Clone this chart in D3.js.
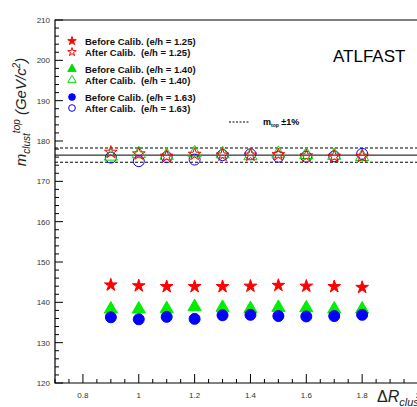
<!DOCTYPE html>
<html>
<head>
<script src="https://cdn.jsdelivr.net/npm/d3@7"></script>
<style>
  body { margin: 0; background: #fff; }
  text { font-family: "Liberation Sans", Arial, sans-serif; }
</style>
</head>
<body>
<svg id="chart" width="417" height="407"></svg>
<script>
var dR = [0.9, 1.0, 1.1, 1.2, 1.3, 1.4, 1.5, 1.6, 1.7, 1.8];
var before125 = [144.3, 144.1, 143.9, 143.9, 143.9, 144.0, 144.2, 144.0, 143.9, 143.7];
var before140 = [138.3, 138.3, 138.4, 138.9, 138.7, 138.4, 138.7, 138.6, 138.3, 138.3];
var before163 = [136.3, 135.8, 136.4, 135.9, 136.8, 136.9, 136.6, 136.5, 136.6, 136.9];
var after125 = [177.2, 176.8, 176.2, 176.7, 176.5, 176.5, 176.6, 176.3, 176.2, 176.2];
var after140 = [176.2, 176.8, 176.4, 177.0, 176.8, 176.3, 176.9, 176.6, 176.4, 176.1];
var after163 = [175.9, 175.0, 176.0, 175.4, 176.5, 176.7, 176.1, 176.1, 176.2, 176.8];
var mtop = 176.5;
var xTicks = [0.8, 1, 1.2, 1.4, 1.6, 1.8, 2];
var yTicks = [120, 130, 140, 150, 160, 170, 180, 190, 200, 210];

var svg = d3.select('#chart');
var pLeft = 55, pTop = 20, pBottom = 383, pRight = 420;
var x = d3.scaleLinear().domain([0.7, 2.0]).range([pLeft, 418]);
var y = d3.scaleLinear().domain([120, 210]).range([pBottom, pTop]);

// frame
svg.append('path').attr('d', 'M' + pRight + ',' + pTop + 'H' + pLeft + 'V' + pBottom + 'H' + pRight)
  .attr('fill', 'none').attr('stroke', '#000').attr('stroke-width', 1.2);

// ticks
var g = svg.append('g').attr('stroke', '#000');
d3.range(120, 210.01, 2).forEach(function(v) {
  var major = v % 10 === 0;
  g.append('line').attr('x1', pLeft).attr('x2', pLeft + (major ? 8 : 4))
    .attr('y1', y(v)).attr('y2', y(v));
});
d3.range(0.7, 2.01, 0.05).forEach(function(v) {
  var major = Math.abs(v * 10 - Math.round(v * 10)) < 1e-6 && Math.round(v * 10) % 2 === 0;
  g.append('line').attr('y1', pBottom).attr('y2', pBottom - (major ? 9 : 4))
    .attr('x1', x(v)).attr('x2', x(v));
});
yTicks.forEach(function(v) {
  svg.append('text').attr('x', pLeft - 5).attr('y', y(v) + 3).attr('text-anchor', 'end')
    .attr('font-size', 8).attr('fill', '#333').text(v);
});
xTicks.forEach(function(v) {
  svg.append('text').attr('x', x(v)).attr('y', pBottom + 15).attr('text-anchor', 'middle')
    .attr('font-size', 8).attr('fill', '#333').text(v);
});

// axis titles
var yl = svg.append('text').attr('transform', 'translate(26,' + 112 + ') rotate(-90)')
  .attr('text-anchor', 'middle').attr('font-size', 15).attr('font-style', 'italic').attr('fill', '#222');
yl.append('tspan').text('m');
yl.append('tspan').attr('font-size', 10).attr('dy', 4).text('clust');
yl.append('tspan').attr('font-size', 10).attr('dy', -10).text('top');
yl.append('tspan').attr('dy', 6).text(' (GeV/c');
yl.append('tspan').attr('font-size', 10).attr('dy', -6).text('2');
yl.append('tspan').attr('dy', 6).text(')');
var xl = svg.append('text').attr('x', 377).attr('y', 402).attr('font-size', 16).attr('font-style', 'italic').attr('fill', '#222');
xl.append('tspan').attr('font-style', 'normal').text('Δ');
xl.append('tspan').text('R');
xl.append('tspan').attr('font-size', 11).attr('dy', 4).text('clust');

// reference lines
[[mtop, null], [mtop * 1.01, '3,2'], [mtop * 0.99, '3,2']].forEach(function(r) {
  svg.append('line').attr('x1', pLeft).attr('x2', pRight).attr('y1', y(r[0])).attr('y2', y(r[0]))
    .attr('stroke', '#000').attr('stroke-width', 1).attr('stroke-dasharray', r[1]);
});

var star = d3.symbol().type(d3.symbolStar);
var tri = d3.symbol().type(d3.symbolTriangle);
var circ = d3.symbol().type(d3.symbolCircle);
var series = [
  { v: after163, sym: circ.size(95), col: 'blue', fill: false },
  { v: after140, sym: tri.size(75), col: '#00dd00', fill: false },
  { v: after125, sym: star.size(50), col: 'red', fill: false },
  { v: before125, sym: star.size(50), col: 'red', fill: true },
  { v: before140, sym: tri.size(75), col: '#00ee00', fill: true },
  { v: before163, sym: circ.size(95), col: 'blue', fill: true }
];
series.forEach(function(s) {
  svg.append('g').selectAll('path').data(s.v).join('path')
    .attr('d', s.sym)
    .attr('transform', function(d, i) { return 'translate(' + x(dR[i]) + ',' + y(d) + ')'; })
    .attr('fill', s.fill ? s.col : 'none').attr('stroke', s.col).attr('stroke-width', 1);
});

// legend
var leg = [
  ['Before Calib. (e/h = 1.25)', star.size(14), 'red', true, 41],
  ['After Calib.  (e/h = 1.25)', star.size(22), 'red', false, 52],
  ['Before Calib. (e/h = 1.40)', tri.size(30), '#00dd00', true, 69],
  ['After Calib.  (e/h = 1.40)', tri.size(30), '#00dd00', false, 80],
  ['Before Calib. (e/h = 1.63)', circ.size(35), 'blue', true, 97],
  ['After Calib.  (e/h = 1.63)', circ.size(35), 'blue', false, 108]
];
leg.forEach(function(l) {
  svg.append('path').attr('d', l[1]).attr('transform', 'translate(72,' + l[4] + ')')
    .attr('fill', l[3] ? l[2] : 'none').attr('stroke', l[2]).attr('stroke-width', 1);
  svg.append('text').attr('x', 85).attr('y', l[4] + 3.5).attr('font-size', 9.5)
    .attr('font-weight', 'bold').attr('fill', '#111').attr('xml:space', 'preserve').text(l[0]);
});
svg.append('line').attr('x1', 229).attr('x2', 250).attr('y1', 122).attr('y2', 122)
  .attr('stroke', '#000').attr('stroke-dasharray', '2,1.5');
var mt = svg.append('text').attr('x', 263).attr('y', 125).attr('font-size', 9).attr('font-weight', 'bold');
mt.append('tspan').text('m');
mt.append('tspan').attr('font-size', 5).attr('dy', 2).text('top');
mt.append('tspan').attr('dy', -2).text(' ±1%');
svg.append('text').attr('x', 333).attr('y', 62).attr('font-size', 17).attr('fill', '#000').text('ATLFAST');
</script>
</body>
</html>
